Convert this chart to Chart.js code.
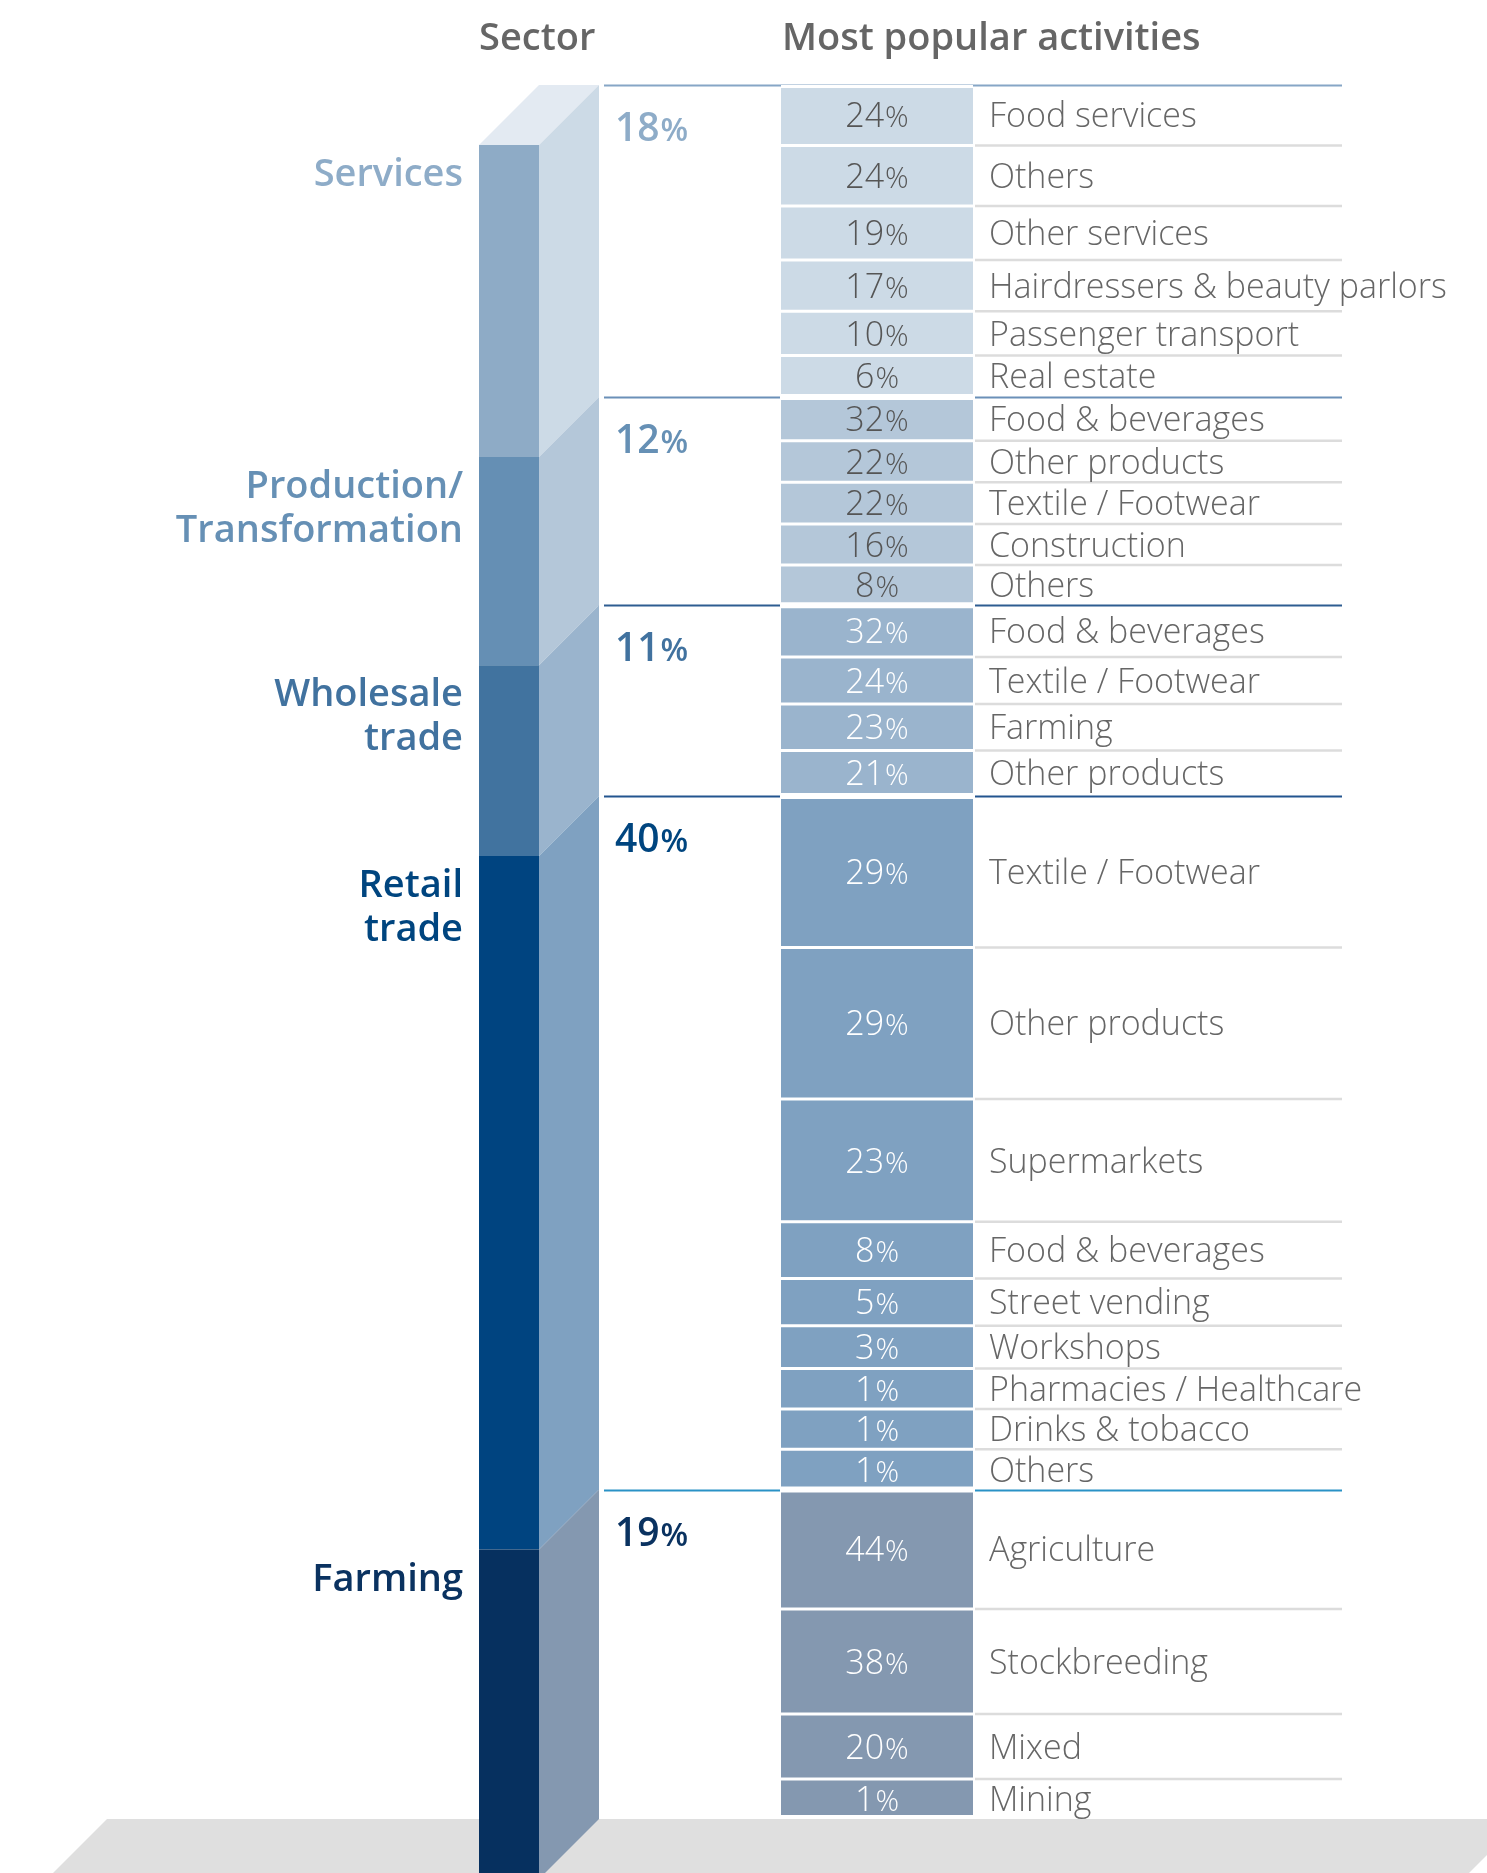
<!DOCTYPE html>
<html>
<head>
<meta charset="utf-8">
<title>Sector and most popular activities</title>
<script src="https://cdn.jsdelivr.net/npm/chart.js@4.4.1/dist/chart.umd.min.js"></script>
<style>
  html, body { margin: 0; padding: 0; background: #ffffff; }
  canvas { display: block; }
</style>
</head>
<body>
<canvas id="chart" width="1487" height="1873"></canvas>
<script>
// ---- Data -------------------------------------------------------------
// Share of businesses by sector (%)
const sectorNames = [['Services'], ['Production/', 'Transformation'], ['Wholesale', 'trade'], ['Retail', 'trade'], ['Farming']];
const sectorShares = [18, 12, 11, 40, 19];

// Most popular activities within each sector (% of the sector)
const servicesActivities = ['Food services', 'Others', 'Other services', 'Hairdressers & beauty parlors', 'Passenger transport', 'Real estate'];
const servicesValues = [24, 24, 19, 17, 10, 6];

const productionActivities = ['Food & beverages', 'Other products', 'Textile / Footwear', 'Construction', 'Others'];
const productionValues = [32, 22, 22, 16, 8];

const wholesaleActivities = ['Food & beverages', 'Textile / Footwear', 'Farming', 'Other products'];
const wholesaleValues = [32, 24, 23, 21];

const retailActivities = ['Textile / Footwear', 'Other products', 'Supermarkets', 'Food & beverages', 'Street vending', 'Workshops', 'Pharmacies / Healthcare', 'Drinks & tobacco', 'Others'];
const retailValues = [29, 29, 23, 8, 5, 3, 1, 1, 1];

const farmingActivities = ['Agriculture', 'Stockbreeding', 'Mixed', 'Mining'];
const farmingValues = [44, 38, 20, 1];

const columnTitles = ['Sector', 'Most popular activities'];

// ---- Styles -----------------------------------------------------------
const FONT = '"Open Sans", "Liberation Sans", sans-serif';
const frontColors = ['#8eabc6', '#658fb4', '#41739f', '#004480', '#06305f'];
const sideColors  = ['#ccdae6', '#b4c7d9', '#9ab4cd', '#7fa1c1', '#8498b0'];
const ruleColors  = ['#86a6c6', '#6b90b8', '#2e5d91', '#23558f', '#2a92c6'];
const nameColors  = ['#8eacc8', '#6690b5', '#41729f', '#00457f', '#0a3260'];
const cellTextColors = ['#555555', '#555555', '#ffffff', '#ffffff', '#ffffff'];

// ---- Layout -----------------------------------------------------------
const W = 1487, H = 1873;
const TOP_Y = 85, FLOOR_Y = 1819, DEPTH = 60;
const PPU = (FLOOR_Y - TOP_Y) / 100;           // pixels per percentage point
const FRONT_L = 479, FRONT_R = 539;
const CELL_L = 781, CELL_R = 973;
const RULE_L = 604, RULE_R = 1342;
const NAME_X = 463, SHARE_X = 615, LABEL_X = 989;
const FLOOR_L = 107, FLOOR_R = 1523;
const MIN_ROW_PX = 40;
const ROW_FONT = 34;

const groups = [
  { labels: servicesActivities, values: servicesValues },
  { labels: productionActivities, values: productionValues },
  { labels: wholesaleActivities, values: wholesaleValues },
  { labels: retailActivities, values: retailValues },
  { labels: farmingActivities, values: farmingValues }
];

// Start of each sector along the cumulative 0-100 axis
const sectorStart = [];
sectorShares.reduce((acc, s) => { sectorStart.push(acc); return acc + s; }, 0);

// Split a sector's span into rows: bigger activities get taller rows,
// every row keeps a minimum height so its text fits.
function layoutRows(values, span) {
  const m = MIN_ROW_PX / PPU;
  const n = values.length;
  if (n * m >= span) return values.map(() => span / n);
  const total = c => values.reduce((s, v) => s + Math.hypot(m, c * v), 0);
  let lo = 0, hi = span / values.reduce((a, b) => a + b, 0);
  for (let i = 0; i < 60; i++) {
    const mid = (lo + hi) / 2;
    if (total(mid) > span) hi = mid; else lo = mid;
  }
  return values.map(v => Math.hypot(m, lo * v));
}

const rows = [];
groups.forEach((g, i) => {
  const heights = layoutRows(g.values, sectorShares[i]);
  let y = sectorStart[i];
  g.values.forEach((v, j) => {
    rows.push({ sector: i, value: v, label: g.labels[j], y0: y, y1: y + heights[j],
                first: j === 0, last: j === g.values.length - 1 });
    y += heights[j];
  });
});

// ---- Helpers ----------------------------------------------------------
function poly(ctx, pts, color) {
  ctx.fillStyle = color;
  ctx.beginPath();
  pts.forEach((p, i) => i ? ctx.lineTo(p[0], p[1]) : ctx.moveTo(p[0], p[1]));
  ctx.closePath();
  ctx.fill();
}

function rule(ctx, x0, x1, y, color, width) {
  ctx.strokeStyle = color;
  ctx.lineWidth = width;
  ctx.beginPath();
  ctx.moveTo(x0, y);
  ctx.lineTo(x1, y);
  ctx.stroke();
}

// Number followed by a slightly smaller percent sign
function drawPct(ctx, value, x, y, size, weight, color, align, ratio) {
  const num = String(value), pSize = size * ratio;
  ctx.font = `${weight} ${size}px ${FONT}`;
  const wn = ctx.measureText(num).width;
  ctx.font = `${weight} ${pSize}px ${FONT}`;
  const wp = ctx.measureText('%').width;
  const x0 = align === 'center' ? x - (wn + wp + 1) / 2 : x;
  ctx.fillStyle = color;
  ctx.textAlign = 'left';
  ctx.textBaseline = 'alphabetic';
  ctx.font = `${weight} ${size}px ${FONT}`;
  ctx.fillText(num, x0, y);
  ctx.font = `${weight} ${pSize}px ${FONT}`;
  ctx.fillText('%', x0 + wn + 1, y);
}

// Floor, column top/side faces and table rules
const scenery = {
  id: 'scenery',
  beforeDatasetsDraw(chart) {
    const { ctx, scales: { y, yF } } = chart;
    ctx.save();
    const drop = H - FLOOR_Y;
    poly(ctx, [[FLOOR_L, FLOOR_Y], [FLOOR_R, FLOOR_Y], [FLOOR_R - drop, H], [FLOOR_L - drop, H]], '#dfdfdf');

    // top face of the column
    const fTop = yF.getPixelForValue(0), bTop = y.getPixelForValue(0);
    poly(ctx, [[FRONT_L, fTop], [FRONT_R, fTop], [FRONT_R + DEPTH, bTop], [FRONT_L + DEPTH, bTop]], '#e3eaf2');

    // side faces, one per sector
    sectorShares.forEach((s, i) => {
      const a = sectorStart[i], b = a + s;
      poly(ctx, [[FRONT_R, yF.getPixelForValue(a)], [FRONT_R + DEPTH, y.getPixelForValue(a)],
                 [FRONT_R + DEPTH, y.getPixelForValue(b)], [FRONT_R, yF.getPixelForValue(b)]], sideColors[i]);
    });

    // sector rules
    sectorShares.forEach((s, i) => {
      const py = Math.round(y.getPixelForValue(sectorStart[i])) + 0.5;
      if (i === 0) {
        rule(ctx, RULE_L, RULE_R, py, ruleColors[i], 2);
      } else {
        rule(ctx, RULE_L, CELL_L - 1, py, ruleColors[i], 2);
        rule(ctx, CELL_R + 2, RULE_R, py, ruleColors[i], 2);
      }
    });

    // activity separators
    rows.forEach(r => {
      if (r.first) return;
      rule(ctx, CELL_R + 2, RULE_R, y.getPixelForValue(r.y0), '#dcdcdc', 2.5);
    });
    ctx.restore();
  },
  afterDatasetsDraw(chart) {
    const { ctx, scales: { y, yF } } = chart;
    ctx.save();

    // column headers
    ctx.fillStyle = '#666666';
    ctx.textAlign = 'left';
    ctx.textBaseline = 'alphabetic';
    ctx.font = `600 38px ${FONT}`;
    ctx.fillText(columnTitles[0], FRONT_L, 50);
    ctx.fillText(columnTitles[1], CELL_L + 1, 50);

    // sector names and shares
    sectorShares.forEach((s, i) => {
      const front = yF.getPixelForValue(sectorStart[i]);
      ctx.fillStyle = nameColors[i];
      ctx.textAlign = 'right';
      ctx.font = `600 38px ${FONT}`;
      sectorNames[i].forEach((line, k) => ctx.fillText(line, NAME_X, front + 41 + k * 44));
      drawPct(ctx, s, SHARE_X, y.getPixelForValue(sectorStart[i]) + 56, 39, 600, nameColors[i], 'left', 0.82);
    });

    // activity rows
    rows.forEach(r => {
      const mid = (y.getPixelForValue(r.y0) + y.getPixelForValue(r.y1)) / 2;
      const base = mid + ROW_FONT * 0.357;
      drawPct(ctx, r.value, (CELL_L + CELL_R) / 2, base, ROW_FONT, 300, cellTextColors[r.sector], 'center', 0.86);
      ctx.fillStyle = '#666666';
      ctx.textAlign = 'left';
      ctx.font = `300 ${ROW_FONT}px ${FONT}`;
      ctx.fillText(r.label, LABEL_X, base);
    });
    ctx.restore();
  }
};

// ---- Chart ------------------------------------------------------------
const yMin = -TOP_Y / PPU, yMax = (H - TOP_Y) / PPU, shift = DEPTH / PPU;

new Chart(document.getElementById('chart'), {
  type: 'bar',
  data: {
    datasets: [
      {
        label: 'Sector share',
        xAxisID: 'x', yAxisID: 'yF', stack: 'column',
        data: sectorShares.map((s, i) => ({ x: (FRONT_L + FRONT_R) / 2, y: [sectorStart[i], sectorStart[i] + s] })),
        backgroundColor: frontColors,
        borderWidth: 0,
        barThickness: FRONT_R - FRONT_L,
        inflateAmount: 0
      },
      {
        label: 'Activity share',
        xAxisID: 'x', yAxisID: 'y', stack: 'column',
        data: rows.map(r => ({ x: (CELL_L + CELL_R) / 2, y: [r.y0, r.y1] })),
        backgroundColor: rows.map(r => sideColors[r.sector]),
        borderColor: '#ffffff',
        borderSkipped: false,
        borderWidth: c => {
          const r = rows[c.dataIndex];
          if (!r) return 0;
          return { top: r.first ? 3 : 1.5, bottom: r.last ? (r.sector === 4 ? 4 : 3) : 1.5, left: 0, right: 0 };
        },
        barThickness: CELL_R - CELL_L,
        inflateAmount: 0
      }
    ]
  },
  options: {
    responsive: false,
    animation: false,
    devicePixelRatio: 1,
    layout: { padding: 0 },
    plugins: { legend: { display: false }, tooltip: { enabled: false } },
    scales: {
      x: { type: 'linear', min: 0, max: W, display: false, offset: false },
      y: { type: 'linear', axis: 'y', reverse: true, min: yMin, max: yMax, display: false },
      yF: { type: 'linear', axis: 'y', reverse: true, min: yMin - shift, max: yMax - shift, display: false }
    }
  },
  plugins: [scenery]
});
</script>
</body>
</html>
